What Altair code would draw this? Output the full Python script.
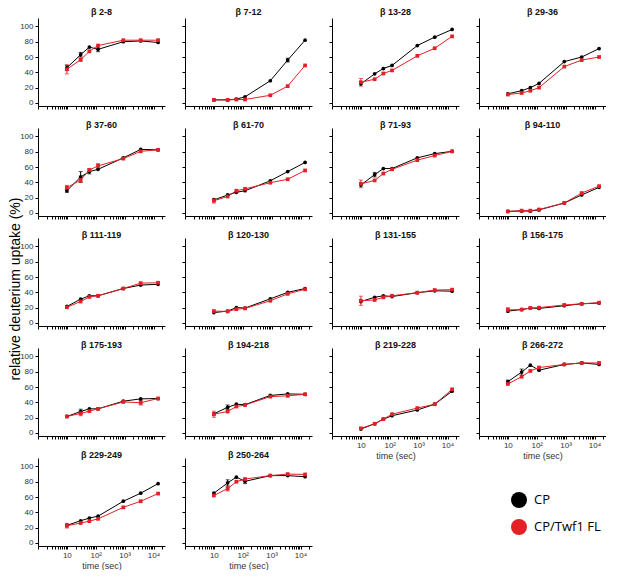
import altair as alt
import pandas as pd

TIMES = [10, 30, 60, 120, 900, 3600, 14400]
SERIES = ["CP", "CP/Twf1 FL"]
COLORS = ["#000000", "#e41f26"]
SHAPES = ["circle", "square"]

PEPTIDES = ["2-8", "7-12", "13-28", "29-36",
            "37-60", "61-70", "71-93", "94-110",
            "111-119", "120-130", "131-155", "156-175",
            "175-193", "194-218", "219-228", "266-272",
            "229-249", "250-264"]

CP_UPTAKE = [
    [46, 63, 73, 70, 80, 81, 79],
    [4, 4, 5, 8, 29, 56, 82],
    [25, 38, 45, 49, 75, 86, 96],
    [12, 16, 20, 25.5, 54, 60, 71],
    [29, 47, 54, 57, 72, 83, 82.5],
    [17, 23.5, 27, 29, 42, 54, 66],
    [36.5, 50, 58, 58, 72, 77.5, 80.5],
    [2, 2.5, 2.5, 4, 13, 23.5, 33.5],
    [21.5, 31, 35.5, 35.5, 45, 49.5, 50.5],
    [13.5, 15.5, 20, 19.5, 31.5, 40, 45],
    [28, 33.5, 35.5, 34.5, 39.5, 42, 41.5],
    [15.5, 17.5, 19.5, 19, 22.5, 25, 26],
    [21.5, 28, 31.5, 31.5, 41.5, 44.5, 45],
    [25, 33.5, 37.5, 37, 49, 51, 50.5],
    [5, 12, 18, 22.5, 30, 37.5, 54.5],
    [67, 79.5, 88.5, 82, 89.5, 91.5, 89.5],
    [23, 29, 32.5, 35, 54.5, 65, 77.5],
    [65, 78.5, 86, 80.5, 88, 88, 86.5],
]

TWF_UPTAKE = [
    [44, 56.5, 67.5, 75, 82, 82, 82],
    [4, 4, 4.5, 4.5, 10, 22, 49],
    [27, 31, 38.5, 42.5, 61.5, 71.5, 87],
    [11, 13, 16, 20, 47.5, 56, 60],
    [33, 43, 56, 61.5, 71, 80.5, 82.5],
    [16, 21.5, 29, 31.5, 39.5, 44, 55.5],
    [38, 42.5, 51.5, 57, 69, 75, 80.5],
    [2, 3, 3, 4.5, 13, 26, 35],
    [20.5, 28, 34, 35.5, 45, 52, 52.5],
    [15.5, 15, 18, 19, 29, 38, 44],
    [29, 30, 33.5, 35.5, 39.5, 43, 43.5],
    [17, 17.5, 19.5, 20, 23.5, 25, 26.5],
    [21.5, 25.5, 28.5, 31.5, 40.5, 39.5, 45],
    [24.5, 28, 34.5, 36.5, 47.5, 48.5, 50.5],
    [6, 12, 18, 24.5, 32.5, 37.5, 57],
    [64, 73.5, 81, 85.5, 89.5, 91.5, 91.5],
    [22.5, 26, 28.5, 31.5, 46.5, 54.5, 64.5],
    [62, 71, 80, 83.5, 88, 90, 89.5],
]

CP_ERR = [
    [3, 3, 0, 3, 0, 0, 0],
    [0, 0, 0, 0, 0, 2.5, 0],
    [0, 0, 0, 0, 0, 0, 0],
    [0, 0, 0, 0, 0, 0, 0],
    [2, 7, 3, 0, 0, 0, 0],
    [0, 0, 0, 0, 0, 0, 0],
    [0, 3, 0, 0, 0, 0, 0],
    [0, 0, 0, 0, 0, 0, 0],
    [0, 0, 0, 0, 0, 0, 0],
    [0, 0, 0, 0, 0, 0, 0],
    [0, 0, 0, 0, 0, 0, 0],
    [0, 0, 0, 0, 0, 0, 0],
    [0, 3, 0, 0, 0, 0, 0],
    [0, 3, 0, 0, 0, 0, 0],
    [0, 0, 0, 0, 0, 0, 0],
    [2, 4, 0, 0, 0, 0, 0],
    [0, 0, 0, 0, 0, 0, 0],
    [0, 4, 0, 3, 0, 0, 0],
]

TWF_ERR = [
    [6, 2, 0, 0, 0, 0, 0],
    [0, 0, 0, 0, 0, 0, 0],
    [5, 0, 0, 0, 0, 0, 0],
    [0, 0, 0, 0, 0, 0, 0],
    [3, 3, 2, 3, 0, 0, 0],
    [3, 0, 0, 0, 0, 0, 0],
    [5, 0, 0, 0, 0, 0, 0],
    [0, 0, 0, 0, 0, 0, 0],
    [0, 0, 0, 0, 0, 0, 0],
    [0, 0, 0, 0, 0, 0, 0],
    [6, 0, 0, 0, 0, 0, 0],
    [3, 0, 0, 0, 0, 0, 0],
    [0, 3, 0, 0, 0, 3, 0],
    [4, 0, 0, 0, 0, 0, 0],
    [0, 0, 0, 0, 0, 0, 0],
    [0, 0, 0, 0, 0, 0, 0],
    [3, 0, 0, 0, 0, 0, 0],
    [0, 3, 0, 0, 0, 0, 0],
]

X_TICKS = [1, 2, 3, 4, 5, 6, 7, 8, 9,
           10, 20, 30, 40, 50, 60, 70, 80, 90,
           100, 200, 300, 400, 500, 600, 700, 800, 900,
           1000, 2000, 3000, 4000, 5000, 6000, 7000, 8000, 9000,
           10000, 20000]
Y_TICKS = [0, 20, 40, 60, 80, 100]
X_LABELS_AT = [14, 15, 16, 17]
Y_LABELS_AT = [0, 4, 8, 12, 16]

W, H = 127, 88
COLSP, ROWSP = 20, 22
FONT = "Liberation Sans"

rows = []
for p, pep in enumerate(PEPTIDES):
    for s, (vals, errs) in enumerate([(CP_UPTAKE[p], CP_ERR[p]), (TWF_UPTAKE[p], TWF_ERR[p])]):
        for t, v, e in zip(TIMES, vals, errs):
            rows.append(dict(pep=pep, series=SERIES[s], time=t, uptake=v,
                             err=e, lo=v - e, hi=v + e))
df = pd.DataFrame(rows)

LABEL_EXPR = ("datum.value == 10 ? '10' : datum.value == 100 ? '10\u00b2' : "
              "datum.value == 1000 ? '10\u00b3' : datum.value == 10000 ? '10\u2074' : ''")

xscale = alt.Scale(type="log", domain=[1, 25000], nice=False)
yscale = alt.Scale(domain=[-4, 111], nice=False, zero=False)
cscale = alt.Scale(domain=SERIES, range=COLORS)

legend = alt.Legend(title=None, orient="none", legendX=473, legendY=474,
                    symbolType="circle", symbolSize=256, symbolOpacity=1,
                    symbolStrokeWidth=0, labelFont="Open Sans", labelFontSize=13,
                    labelColor="black", labelOffset=7, rowPadding=11, padding=0)


def xaxis(show):
    if show:
        return alt.Axis(values=X_TICKS, labelExpr=LABEL_EXPR, labelFontSize=8,
                        labelColor="#333", labelPadding=2, labelFlush=False,
                        labelOverlap=False, tickSize=3, tickColor="black",
                        domainColor="black", grid=False, title="time (sec)",
                        titleFontSize=9, titleFontWeight="normal", titleColor="#333",
                        titlePadding=2)
    return alt.Axis(values=X_TICKS, labels=False, tickSize=3, tickColor="black",
                    domainColor="black", grid=False, title=None)


def yaxis(show):
    return alt.Axis(values=Y_TICKS, labels=show, labelFontSize=8, labelColor="#333",
                    labelPadding=2, tickSize=3, tickColor="black", domainColor="black",
                    grid=False, title=None)


def panel(i):
    pep = PEPTIDES[i]
    d = df[df.pep == pep]
    X = alt.X("time:Q", scale=xscale, axis=xaxis(i in X_LABELS_AT))
    Y = alt.Y("uptake:Q", scale=yscale, axis=yaxis(i in Y_LABELS_AT))
    layers = []
    for k, s in enumerate(SERIES):
        ds = d[d.series == s]
        layers.append(alt.Chart(ds).mark_line(strokeWidth=1, color=COLORS[k]).encode(x=X, y=Y))
    for k, s in enumerate(SERIES):
        de = d[(d.err > 0) & (d.series == s)]
        if len(de):
            eb = alt.Chart(de)
            layers.append(eb.mark_rule(strokeWidth=1, color=COLORS[k]).encode(
                x=X, y=alt.Y("lo:Q", scale=yscale, axis=yaxis(i in Y_LABELS_AT)), y2="hi:Q"))
            for col in ["lo", "hi"]:
                layers.append(eb.mark_tick(orient="horizontal", size=4, thickness=1,
                                           color=COLORS[k]).encode(
                    x=X, y=alt.Y(f"{col}:Q", scale=yscale, axis=yaxis(i in Y_LABELS_AT))))
    for k, s in enumerate(SERIES):
        ds = d[d.series == s]
        layers.append(alt.Chart(ds).mark_point(filled=True, opacity=1, size=14,
                                               shape=SHAPES[k]).encode(
            x=X, y=Y, color=alt.Color("series:N", scale=cscale, legend=legend)))
    off = 1 if i < 4 else -2
    return alt.layer(*layers).properties(
        width=W, height=H,
        title=alt.TitleParams(text="\u03b2 " + pep, fontSize=9, fontWeight="bold",
                              font=FONT, color="#111", anchor="middle", offset=off))


panels = [panel(i) for i in range(len(PEPTIDES))]

chart = alt.concat(
    *panels, columns=4, spacing={"row": ROWSP, "column": COLSP}, bounds="flush",
    title=alt.TitleParams(text="relative deuterium uptake (%)", orient="left",
                          anchor="middle", fontSize=14, fontWeight="normal",
                          font=FONT, color="black", offset=-3),
    padding=0,
).configure(font=FONT).configure_view(stroke=None)

chart.save("out.html", embed_options={"renderer": "svg", "actions": False})
